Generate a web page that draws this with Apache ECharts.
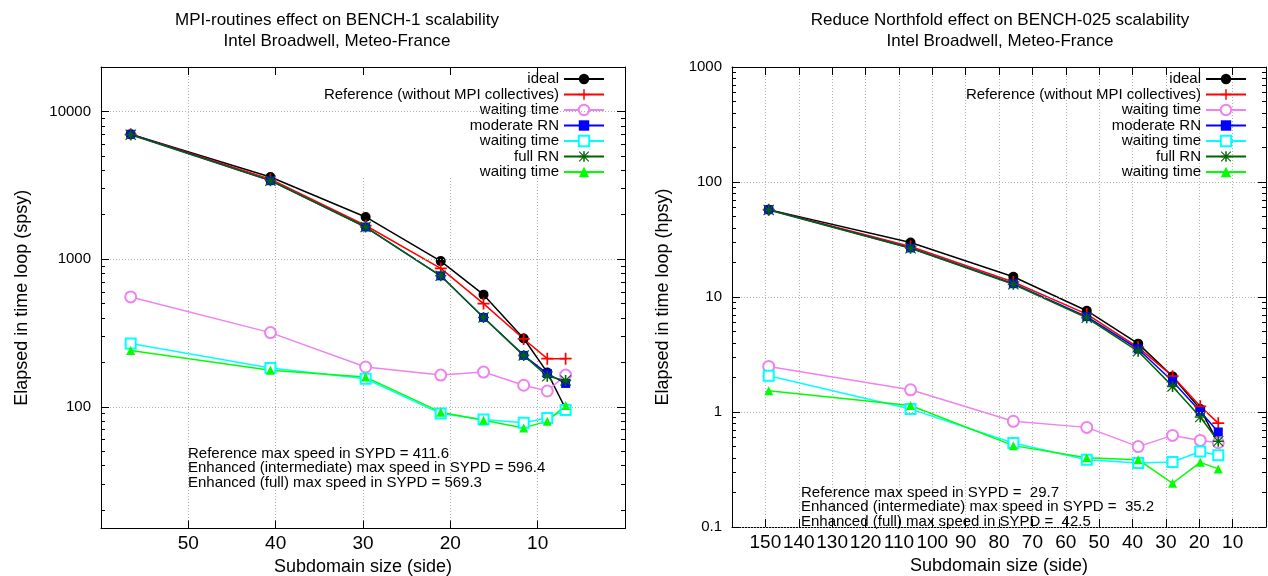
<!DOCTYPE html>
<html>
<head>
<meta charset="utf-8">
<title>MPI-routines / Reduce Northfold scalability</title>
<script src="https://cdn.jsdelivr.net/npm/echarts@6/dist/echarts.min.js"></script>
<style>
  html, body { margin: 0; padding: 0; background: #ffffff; }
  #chart { width: 1268px; height: 576px; }
</style>
</head>
<body>
<div id="chart"></div>
<script>
// ---- BENCH-1 panel: elapsed time in the time loop (spsy) vs subdomain side ----
const sideB1      = [56.6, 40.6, 29.7, 21.1, 16.2, 11.6, 8.9, 6.8];
const idealB1     = [7000, 3600, 1930, 970, 575, 290, 171, 97];
const refB1       = [7000, 3480, 1690, 865, 500, 288, 212, 212];
const waitRefB1   = [555, 318, 186, 164, 172, 140, 128, 164];
const moderateB1  = [7000, 3400, 1650, 771, 403, 223, 168, 144];
const waitModB1   = [268, 183, 155, 90, 82, 78, 84, 95];
const fullB1      = [6950, 3400, 1650, 771, 403, 223, 161, 151];
const waitFullB1  = [241, 177, 159, 92, 81, 72, 80, 102];

// ---- BENCH-025 panel: elapsed time in the time loop (hpsy) vs subdomain side ----
const sideB025     = [149, 106.5, 75.7, 53.7, 38.3, 28.0, 19.7, 14.3];
const idealB025    = [57.5, 29.8, 15.0, 7.6, 3.93, 2.04, 1.06, 0.54];
const refB025      = [57.5, 27.5, 13.5, 7.1, 3.65, 2.05, 1.12, 0.80];
const waitRefB025  = [2.49, 1.56, 0.83, 0.735, 0.50, 0.626, 0.566, 0.54];
const moderateB025 = [57.5, 26.7, 13.05, 6.75, 3.53, 1.85, 1.01, 0.67];
const waitModB025  = [2.07, 1.06, 0.537, 0.385, 0.36, 0.367, 0.454, 0.42];
const fullB025     = [57.0, 26.5, 12.9, 6.6, 3.37, 1.67, 0.905, 0.556];
const waitFullB025 = [1.53, 1.14, 0.51, 0.40, 0.385, 0.24, 0.365, 0.32];

// ---- legend entries, tick labels and text ----
const seriesNames = ['ideal', 'Reference (without MPI collectives)', 'waiting time',
                     'moderate RN', 'waiting time', 'full RN', 'waiting time'];
const xTicksB1   = [10, 20, 30, 40, 50];
const xTicksB025 = [10, 20, 30, 40, 50, 60, 70, 80, 90, 100, 110, 120, 130, 140, 150];
const yTicksB1   = [100, 1000, 10000];
const yTicksB025 = [0.1, 1, 10, 100, 1000];
const titleB1   = ['MPI-routines effect on BENCH-1 scalability', 'Intel Broadwell, Meteo-France'];
const titleB025 = ['Reduce Northfold effect on BENCH-025 scalability', 'Intel Broadwell, Meteo-France'];
const notesB1 = ['Reference max speed in SYPD = 411.6',
                 'Enhanced (intermediate) max speed in SYPD = 596.4',
                 'Enhanced (full) max speed in SYPD = 569.3'];
const notesB025 = ['Reference max speed in SYPD =  29.7',
                   'Enhanced (intermediate) max speed in SYPD =  35.2',
                   'Enhanced (full) max speed in SYPD =  42.5'];
const xName = 'Subdomain size (side)';
const yNameB1 = 'Elapsed in time loop (spsy)';
const yNameB025 = 'Elapsed in time loop (hpsy)';

// ---- styling ----
const FONT = '"Liberation Sans", Arial, Helvetica, sans-serif';
const PLUS = 'path://M6,0H8V6H14V8H8V14H6V8H0V6H6Z';
const STAR = 'path://M6,0H8V6H14V8H8V14H6V8H0V6H6Z M0,1L1,0L14,13L13,14Z M13,0L14,1L1,14L0,13Z';
const styles = [
  { color: '#000000', symbol: 'circle',      size: 10, hollow: false },
  { color: '#ff0000', symbol: PLUS,          size: 12, hollow: false },
  { color: '#ee82ee', symbol: 'emptyCircle', size: 11, hollow: true  },
  { color: '#0000ff', symbol: 'rect',        size: 9,  hollow: false },
  { color: '#00ffff', symbol: 'emptyRect',   size: 10, hollow: true  },
  { color: '#006400', symbol: STAR,          size: 11, hollow: false },
  { color: '#00ff00', symbol: 'triangle',    size: 9,  hollow: false }
];
const GRID_LINE = { color: '#b0b0b0', width: 1, type: [1, 2] };
const BORDER = { show: true, onZero: false, lineStyle: { color: '#000', width: 1 } };

// minor tick positions on a log axis: 2..9 times each decade inside [lo, hi]
function logMinorTicks(lo, hi) {
  const out = [];
  for (let d = Math.floor(Math.log10(lo)); d <= Math.ceil(Math.log10(hi)); d++) {
    for (let m = 2; m <= 9; m++) {
      const v = +(m * Math.pow(10, d)).toPrecision(6);
      if (v > lo && v < hi) out.push(v);
    }
  }
  return out;
}

function xAxesFor(gridIndex, max, ticks) {
  const base = { type: 'value', gridIndex, min: 0, max, interval: 10, inverse: true };
  return [
    Object.assign({}, base, {
      position: 'bottom',
      name: xName, nameLocation: 'middle', nameGap: 27,
      nameTextStyle: { fontFamily: FONT, fontSize: 18, color: '#000' },
      axisLine: BORDER,
      axisTick: { show: true, inside: true, length: 8, customValues: ticks, lineStyle: { color: '#000' } },
      axisLabel: { customValues: ticks, fontFamily: FONT, fontSize: 19, color: '#000', margin: 6 },
      splitLine: { show: true, lineStyle: GRID_LINE }
    }),
    Object.assign({}, base, {
      position: 'top', z: 5,
      axisLine: BORDER,
      axisTick: { show: true, inside: true, length: 8, customValues: ticks, lineStyle: { color: '#000' } },
      axisLabel: { show: false },
      splitLine: { show: false }
    })
  ];
}

function yAxesFor(gridIndex, min, max, ticks, name, nameGap) {
  const base = { type: 'log', logBase: 10, gridIndex, min, max };
  const minor = logMinorTicks(min, max);
  const major = (pos, withLabel) => Object.assign({}, base, {
    position: pos, z: 5,
    name: withLabel ? name : '', nameLocation: 'middle', nameGap,
    nameTextStyle: { fontFamily: FONT, fontSize: 18, color: '#000' },
    axisLine: BORDER,
    axisTick: { show: true, inside: true, length: 8, customValues: ticks, lineStyle: { color: '#000' } },
    axisLabel: withLabel
      ? { customValues: ticks, fontFamily: FONT, fontSize: 15, color: '#000', margin: 10,
          formatter: v => String(v) }
      : { show: false },
    splitLine: { show: withLabel, lineStyle: GRID_LINE }
  });
  const minorAxis = pos => Object.assign({}, base, {
    position: pos, z: 5,
    axisLine: { show: false, onZero: false },
    axisTick: { show: true, inside: true, length: 4, customValues: minor, lineStyle: { color: '#000' } },
    axisLabel: { show: false },
    splitLine: { show: false }
  });
  return [major('left', true), minorAxis('left'), major('right', false), minorAxis('right')];
}

function seriesFor(prefix, gridIndex, xs, columns) {
  return columns.map((vals, i) => {
    const s = styles[i];
    return {
      name: prefix + i,
      type: 'line',
      xAxisIndex: gridIndex * 2,
      yAxisIndex: gridIndex * 4,
      data: xs.map((x, j) => [x, vals[j]]),
      symbol: s.symbol,
      symbolSize: s.size,
      showSymbol: true,
      lineStyle: { color: s.color, width: 1.5 },
      itemStyle: { color: s.color, borderColor: s.color, borderWidth: s.hollow ? 1.5 : 0 },
      emphasis: { disabled: true },
      silent: true,
      z: 2
    };
  });
}

// one legend component per entry so the samples line up on the right
function legendsFor(prefix, rightOffset) {
  return seriesNames.map((label, i) => ({
    data: [prefix + i],
    orient: 'vertical',
    align: 'right',
    right: rightOffset,
    top: 71.5 + 15.5 * i,
    padding: 0,
    itemWidth: 40,
    itemHeight: 13,
    selectedMode: false,
    formatter: name => seriesNames[Number(name.slice(1))],
    textStyle: { fontFamily: FONT, fontSize: 15, color: '#000' }
  }));
}

function titleFor(lines, centerX) {
  return {
    text: lines.join('\n'),
    left: centerX, top: 10, padding: 0, textAlign: 'center',
    textStyle: { fontFamily: FONT, fontSize: 17, fontWeight: 'normal', color: '#000', lineHeight: 21 }
  };
}

function noteFor(lines, x, y) {
  return {
    type: 'text', left: x, top: y, z: 10,
    style: { text: lines.join('\n'), font: '15px ' + FONT, fill: '#000', lineHeight: 14.5 }
  };
}

const option = {
  animation: false,
  backgroundColor: '#ffffff',
  title: [titleFor(titleB1, 337), titleFor(titleB025, 1000)],
  legend: legendsFor('L', 663).concat(legendsFor('R', 21)),
  grid: [
    { left: 101, top: 67, width: 524, height: 461.5, outerBoundsMode: 'none', containLabel: false },
    { left: 732, top: 67, width: 534, height: 460, outerBoundsMode: 'none', containLabel: false }
  ],
  xAxis: xAxesFor(0, 60, xTicksB1).concat(xAxesFor(1, 160, xTicksB025)),
  yAxis: yAxesFor(0, 15, 20000, yTicksB1, yNameB1, 70)
    .concat(yAxesFor(1, 0.1, 1000, yTicksB025, yNameB025, 60)),
  graphic: [
    // opaque key background of the BENCH-1 panel
    { type: 'rect', z: 1, silent: true,
      shape: { x: 233, y: 68, width: 379, height: 109 }, style: { fill: '#ffffff' } },
    noteFor(notesB1, 188, 446),
    noteFor(notesB025, 801, 485)
  ],
  series: seriesFor('L', 0, sideB1,
      [idealB1, refB1, waitRefB1, moderateB1, waitModB1, fullB1, waitFullB1])
    .concat(seriesFor('R', 1, sideB025,
      [idealB025, refB025, waitRefB025, moderateB025, waitModB025, fullB025, waitFullB025]))
};

const chart = echarts.init(document.getElementById('chart'), null, { renderer: 'canvas' });
chart.setOption(option);
</script>
</body>
</html>
